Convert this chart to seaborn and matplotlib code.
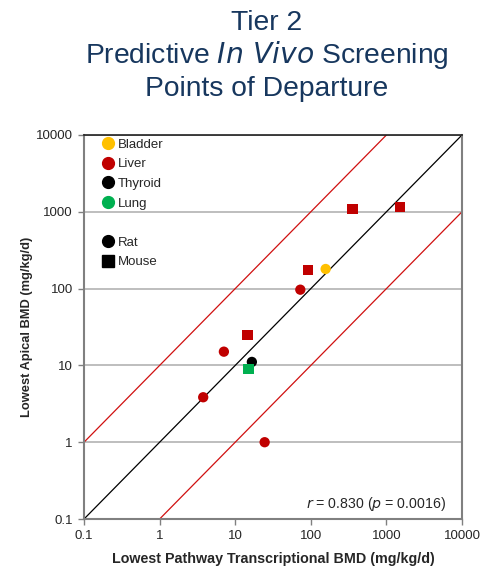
import matplotlib
matplotlib.use('Agg')
import matplotlib.pyplot as plt
from matplotlib.lines import Line2D
from matplotlib.ticker import FixedLocator, FixedFormatter, NullLocator
import seaborn as sns
import pandas as pd

sns.set_theme(style='white')
plt.rcParams['font.family'] = ['Liberation Sans', 'DejaVu Sans']

# data
transcriptional = [157, 3.77, 7.08, 72.6, 24.5, 14.6, 91, 355, 1518, 16.6, 15.0]
apical = [180, 3.85, 15.1, 96.8, 1.0, 25, 175, 1088, 1145, 11.1, 9.06]
organ = ['Bladder', 'Liver', 'Liver', 'Liver', 'Liver', 'Liver', 'Liver', 'Liver', 'Liver',
         'Thyroid', 'Lung']
species = ['Rat', 'Rat', 'Rat', 'Rat', 'Rat', 'Mouse', 'Mouse', 'Mouse', 'Mouse', 'Rat', 'Mouse']

organ_colors = {'Bladder': '#FFC000', 'Liver': '#C00000', 'Thyroid': '#000000', 'Lung': '#00B050'}
decades = [0.1, 1, 10, 100, 1000, 10000]
decade_labels = ['0.1', '1', '10', '100', '1000', '10000']

df = pd.DataFrame({'x': transcriptional, 'y': apical, 'organ': organ, 'species': species})

fig = plt.figure(figsize=(4.84, 5.66), dpi=100)
ax = fig.add_axes([0.1736, 0.083, 0.781, 0.6785])
ax.set_xscale('log')
ax.set_yscale('log')
ax.set_xlim(0.1, 10000)
ax.set_ylim(0.1, 10000)

for v in decades[1:]:
    ax.axhline(v, color='#b3b3b3', lw=1.2, zorder=0)

ax.plot([0.1, 10000], [0.1, 10000], color='black', lw=0.9, zorder=1)
ax.plot([0.1, 1000], [1, 10000], color='#d01010', lw=0.9, zorder=1)
ax.plot([1, 10000], [0.1, 1000], color='#d01010', lw=0.9, zorder=1)

sns.scatterplot(data=df, x='x', y='y', hue='organ', style='species',
                palette=organ_colors, markers={'Rat': 'o', 'Mouse': 's'},
                s=55, edgecolor='none', legend=False, ax=ax, zorder=3)

ax.xaxis.set_major_locator(FixedLocator(decades))
ax.xaxis.set_major_formatter(FixedFormatter(decade_labels))
ax.yaxis.set_major_locator(FixedLocator(decades))
ax.yaxis.set_major_formatter(FixedFormatter(decade_labels))
ax.xaxis.set_minor_locator(NullLocator())
ax.yaxis.set_minor_locator(NullLocator())
ax.tick_params(axis='both', which='major', direction='out', length=4, width=1,
               color='#808080', labelsize=9.5, pad=4, bottom=True, left=True)

for side in ['left', 'bottom', 'right']:
    ax.spines[side].set_color('#808080')
    ax.spines[side].set_linewidth(1.5)
ax.spines['top'].set_color('#202020')
ax.spines['top'].set_linewidth(1.2)

ax.set_xlabel('Lowest Pathway Transcriptional BMD (mg/kg/d)', fontsize=10.3,
              fontweight='bold', labelpad=7)
ax.set_ylabel('Lowest Apical BMD (mg/kg/d)', fontsize=9.3, fontweight='bold', labelpad=2)

ax.text(0.958, 0.04, r'$r$ = 0.830 ($p$ = 0.0016)', transform=ax.transAxes,
        ha='right', va='center', fontsize=10.2)

handles = [Line2D([], [], marker='o', ls='', color=organ_colors[k], markersize=8.5, label=k)
           for k in ['Bladder', 'Liver', 'Thyroid', 'Lung']]
handles.append(Line2D([], [], ls='', label=' '))
handles.append(Line2D([], [], marker='o', ls='', color='black', markersize=8.5, label='Rat'))
handles.append(Line2D([], [], marker='s', ls='', color='black', markersize=8, label='Mouse'))
leg = ax.legend(handles=handles, loc='upper left', bbox_to_anchor=(0.025, 1.015), frameon=False,
                fontsize=9.5, handlelength=0.8, handletextpad=0.35, labelspacing=0.56,
                borderaxespad=0.3)

title_color = '#17375E'
fig.text(0.551, 0.96, 'Tier 2', ha='center', va='center', fontsize=20.3, color=title_color)
fig.text(0.551, 0.902, r'Predictive $\it{In\ Vivo}$ Screening', ha='center', va='center',
         fontsize=20.3, color=title_color)
fig.text(0.551, 0.843, 'Points of Departure', ha='center', va='center', fontsize=20.3,
         color=title_color)

fig.savefig('out.png', dpi=100)
